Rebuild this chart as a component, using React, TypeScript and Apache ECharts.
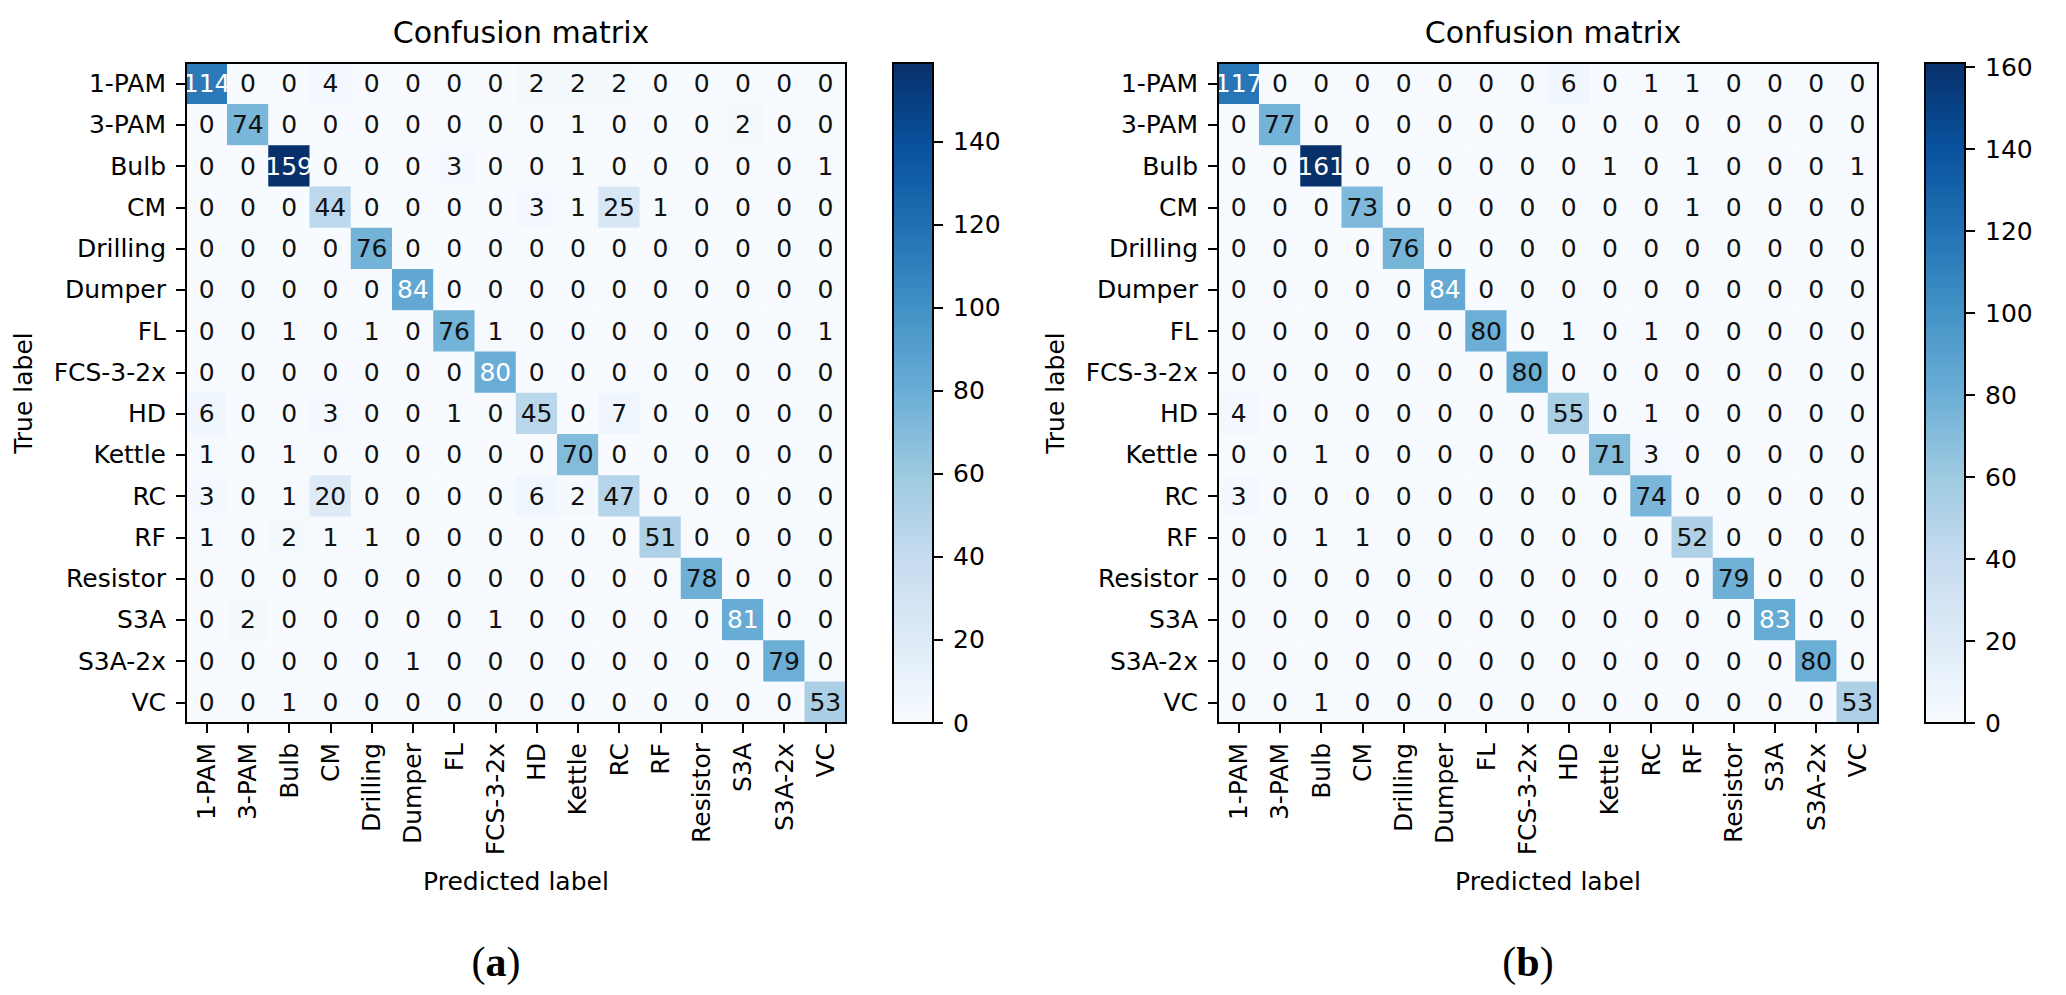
import React, { useEffect, useRef } from "react";
import * as echarts from "echarts";

const CLASSES = [
  "1-PAM", "3-PAM", "Bulb", "CM", "Drilling", "Dumper", "FL", "FCS-3-2x",
  "HD", "Kettle", "RC", "RF", "Resistor", "S3A", "S3A-2x", "VC",
];

// rows = true label, columns = predicted label
const MATRIX_A = [
  [114, 0, 0, 4, 0, 0, 0, 0, 2, 2, 2, 0, 0, 0, 0, 0],
  [0, 74, 0, 0, 0, 0, 0, 0, 0, 1, 0, 0, 0, 2, 0, 0],
  [0, 0, 159, 0, 0, 0, 3, 0, 0, 1, 0, 0, 0, 0, 0, 1],
  [0, 0, 0, 44, 0, 0, 0, 0, 3, 1, 25, 1, 0, 0, 0, 0],
  [0, 0, 0, 0, 76, 0, 0, 0, 0, 0, 0, 0, 0, 0, 0, 0],
  [0, 0, 0, 0, 0, 84, 0, 0, 0, 0, 0, 0, 0, 0, 0, 0],
  [0, 0, 1, 0, 1, 0, 76, 1, 0, 0, 0, 0, 0, 0, 0, 1],
  [0, 0, 0, 0, 0, 0, 0, 80, 0, 0, 0, 0, 0, 0, 0, 0],
  [6, 0, 0, 3, 0, 0, 1, 0, 45, 0, 7, 0, 0, 0, 0, 0],
  [1, 0, 1, 0, 0, 0, 0, 0, 0, 70, 0, 0, 0, 0, 0, 0],
  [3, 0, 1, 20, 0, 0, 0, 0, 6, 2, 47, 0, 0, 0, 0, 0],
  [1, 0, 2, 1, 1, 0, 0, 0, 0, 0, 0, 51, 0, 0, 0, 0],
  [0, 0, 0, 0, 0, 0, 0, 0, 0, 0, 0, 0, 78, 0, 0, 0],
  [0, 2, 0, 0, 0, 0, 0, 1, 0, 0, 0, 0, 0, 81, 0, 0],
  [0, 0, 0, 0, 0, 1, 0, 0, 0, 0, 0, 0, 0, 0, 79, 0],
  [0, 0, 1, 0, 0, 0, 0, 0, 0, 0, 0, 0, 0, 0, 0, 53],
];

const MATRIX_B = [
  [117, 0, 0, 0, 0, 0, 0, 0, 6, 0, 1, 1, 0, 0, 0, 0],
  [0, 77, 0, 0, 0, 0, 0, 0, 0, 0, 0, 0, 0, 0, 0, 0],
  [0, 0, 161, 0, 0, 0, 0, 0, 0, 1, 0, 1, 0, 0, 0, 1],
  [0, 0, 0, 73, 0, 0, 0, 0, 0, 0, 0, 1, 0, 0, 0, 0],
  [0, 0, 0, 0, 76, 0, 0, 0, 0, 0, 0, 0, 0, 0, 0, 0],
  [0, 0, 0, 0, 0, 84, 0, 0, 0, 0, 0, 0, 0, 0, 0, 0],
  [0, 0, 0, 0, 0, 0, 80, 0, 1, 0, 1, 0, 0, 0, 0, 0],
  [0, 0, 0, 0, 0, 0, 0, 80, 0, 0, 0, 0, 0, 0, 0, 0],
  [4, 0, 0, 0, 0, 0, 0, 0, 55, 0, 1, 0, 0, 0, 0, 0],
  [0, 0, 1, 0, 0, 0, 0, 0, 0, 71, 3, 0, 0, 0, 0, 0],
  [3, 0, 0, 0, 0, 0, 0, 0, 0, 0, 74, 0, 0, 0, 0, 0],
  [0, 0, 1, 1, 0, 0, 0, 0, 0, 0, 0, 52, 0, 0, 0, 0],
  [0, 0, 0, 0, 0, 0, 0, 0, 0, 0, 0, 0, 79, 0, 0, 0],
  [0, 0, 0, 0, 0, 0, 0, 0, 0, 0, 0, 0, 0, 83, 0, 0],
  [0, 0, 0, 0, 0, 0, 0, 0, 0, 0, 0, 0, 0, 0, 80, 0],
  [0, 0, 1, 0, 0, 0, 0, 0, 0, 0, 0, 0, 0, 0, 0, 53],
];

const MAX_A = 159;
const MAX_B = 161;
const COLORBAR_TICKS_A = [0, 20, 40, 60, 80, 100, 120, 140];
const COLORBAR_TICKS_B = [0, 20, 40, 60, 80, 100, 120, 140, 160];
const TITLES = ["Confusion matrix", "Confusion matrix"];
const CAPTIONS = ["a", "b"];

const BLUES = [
  "#f7fbff", "#deebf7", "#c6dbef", "#9ecae1", "#6baed6",
  "#4292c6", "#2171b5", "#08519c", "#08306b",
];

const FONT = "DejaVu Sans";
const FS = 25;

function heatData(m: number[][], max: number) {
  const out: any[] = [];
  m.forEach((row, y) =>
    row.forEach((v, x) => {
      out.push({
        value: [x, y, v],
        label: { color: v > max / 2 ? "#ffffff" : "#111111" },
      });
    })
  );
  return out;
}

export default function App() {
  const ref = useRef<HTMLDivElement>(null);
  useEffect(() => {
    document.body.style.margin = "0";
    const chart = echarts.init(ref.current!, null, { renderer: "svg" });

    const matW = 660;
    const top = 63;
    const leftA = 186;
    const leftB = 1218;
    const cbW = 40;
    const cbRightGap = 87; // from matrix right edge to colorbar right edge

    const gridStyle = { show: true, borderColor: "#000", borderWidth: 2, z: 5, backgroundColor: "transparent" };
    const grids = [
      { left: leftA, top, width: matW, height: matW, ...gridStyle },
      { left: leftA + matW + cbRightGap - cbW, top, width: cbW, height: matW, ...gridStyle },
      { left: leftB, top, width: matW, height: matW, ...gridStyle },
      { left: leftB + matW + cbRightGap - cbW, top, width: cbW, height: matW, ...gridStyle },
    ];

    const tickStyle = { show: true, length: 10, lineStyle: { color: "#000", width: 2 } };
    const labelStyle = { color: "#000", fontSize: FS, fontFamily: FONT, margin: 20 };

    const matX = (gi: number) => ({
      type: "category",
      gridIndex: gi,
      data: CLASSES,
      axisLine: { show: false },
      axisTick: { ...tickStyle, alignWithLabel: true, interval: 0 },
      axisLabel: { ...labelStyle, rotate: 90, interval: 0 },
      splitLine: { show: false },
      name: "Predicted label",
      nameLocation: "middle",
      nameGap: 146,
      nameTextStyle: { color: "#000", fontSize: FS, fontFamily: FONT },
    });
    const matY = (gi: number) => ({
      type: "category",
      gridIndex: gi,
      data: CLASSES,
      inverse: true,
      axisLine: { show: false },
      axisTick: { ...tickStyle, alignWithLabel: true, interval: 0 },
      axisLabel: { ...labelStyle, interval: 0 },
      splitLine: { show: false },
      name: "True label",
      nameLocation: "middle",
      nameGap: 150,
      nameRotate: 90,
      nameTextStyle: { color: "#000", fontSize: FS, fontFamily: FONT },
    });
    const cbX = (gi: number) => ({
      type: "category",
      gridIndex: gi,
      data: ["cb"],
      show: false,
    });
    const cbY = (gi: number, max: number, ticks: number[]) => ({
      type: "value",
      gridIndex: gi,
      min: 0,
      max,
      position: "right",
      axisLine: { show: false },
      splitLine: { show: false },
      axisTick: { ...tickStyle, customValues: ticks },
      axisLabel: { ...labelStyle, customValues: ticks },
    });

    const gradient = () =>
      new echarts.graphic.LinearGradient(
        0, 1, 0, 0,
        BLUES.map((c, i) => ({ offset: i / (BLUES.length - 1), color: c }))
      );

    const heatSeries = (xi: number, m: number[][], max: number) => ({
      type: "heatmap",
      xAxisIndex: xi,
      yAxisIndex: xi,
      data: heatData(m, max),
      label: {
        show: true,
        fontSize: FS,
        fontFamily: FONT,
        formatter: (p: any) => String(p.value[2]),
      },
      itemStyle: { borderWidth: 0 },
      emphasis: { disabled: true },
    });

    const titleStyle = { color: "#000", fontSize: 30, fontWeight: "normal", fontFamily: FONT };

    chart.setOption({
      animation: false,
      backgroundColor: "#ffffff",
      title: [
        { text: TITLES[0], left: leftA + matW / 2, top: 12, textAlign: "center", textStyle: titleStyle },
        { text: TITLES[1], left: leftB + matW / 2, top: 12, textAlign: "center", textStyle: titleStyle },
      ],
      grid: grids,
      xAxis: [matX(0), cbX(1), matX(2), cbX(3)],
      yAxis: [matY(0), cbY(1, MAX_A, COLORBAR_TICKS_A), matY(2), cbY(3, MAX_B, COLORBAR_TICKS_B)],
      visualMap: [
        { show: false, type: "continuous", seriesIndex: 0, dimension: 2, min: 0, max: MAX_A, inRange: { color: BLUES } },
        { show: false, type: "continuous", seriesIndex: 2, dimension: 2, min: 0, max: MAX_B, inRange: { color: BLUES } },
      ],
      series: [
        heatSeries(0, MATRIX_A, MAX_A),
        {
          type: "bar",
          xAxisIndex: 1,
          yAxisIndex: 1,
          data: [MAX_A],
          barWidth: "100%",
          itemStyle: { color: gradient() },
          silent: true,
        },
        heatSeries(2, MATRIX_B, MAX_B),
        {
          type: "bar",
          xAxisIndex: 3,
          yAxisIndex: 3,
          data: [MAX_B],
          barWidth: "100%",
          itemStyle: { color: gradient() },
          silent: true,
        },
      ],
      graphic: CAPTIONS.map((c, i) => ({
        type: "text",
        x: [496, 1528][i],
        y: 962,
        style: {
          text: `{p|(}{b|${c}}{p|)}`,
          align: "center",
          verticalAlign: "middle",
          rich: {
            p: { fontFamily: "Liberation Serif", fontSize: 42, fill: "#000", color: "#000" },
            b: { fontFamily: "Liberation Serif", fontSize: 42, fontWeight: "bold", fill: "#000", color: "#000" },
          },
        },
      })),
    });

    return () => chart.dispose();
  }, []);
  return <div ref={ref} style={{ width: 2066, height: 995 }} />;
}
